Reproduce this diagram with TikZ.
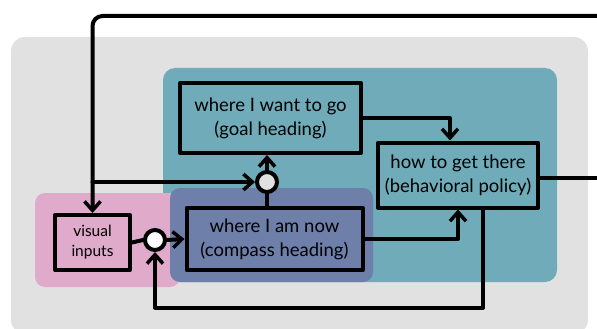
\documentclass[tikz,border=0pt]{standalone}
\usepackage{fontspec}
\setmainfont{Lato}
\usetikzlibrary{arrows.meta}
\definecolor{bggray}{HTML}{E1E1E1}
\definecolor{teal1}{HTML}{6FABB8}
\definecolor{pink1}{HTML}{E0AACB}
\definecolor{purp1}{HTML}{6E80A9}
\begin{document}
\begin{tikzpicture}[x=1pt,y=-1pt,
  blk/.style={draw=black,line width=4pt,minimum width=#1,inner sep=0pt,align=center,font=\fontsize{18.5}{24}\selectfont,line join=round},
  junc/.style={circle,draw=black,line width=4pt,minimum size=20pt,inner sep=0pt},
  ln/.style={draw=black,line width=4pt,line cap=round,line join=round},
  arr/.style={ln,-{Straight Barb[length=9pt,width=16pt,line width=3.5pt]}}]
\useasboundingbox (0,0) rectangle (597,329);
% background regions
\fill[bggray,rounded corners=14pt] (11,37) rectangle (588,334);
\fill[teal1,rounded corners=12pt] (163,68) rectangle (557,282);
\fill[pink1,rounded corners=10pt] (35,193) rectangle (180,287);
\fill[purp1,rounded corners=10pt] (170,188) rectangle (373,282);
% nodes
\node[blk=181pt,minimum height=70pt,fill=teal1] (goal) at (270.5,118) {where I want to go\\(goal heading)};
\node[blk=160pt,minimum height=65pt,fill=teal1] (policy) at (458,175) {how to get there\\(behavioral policy)};
\node[blk=176pt,minimum height=62pt,fill=purp1] (now) at (274.5,239) {where I am now\\(compass heading)};
\node[blk=75pt,minimum height=55pt,fill=pink1,font=\fontsize{15.5}{20}\selectfont] (visual) at (92.5,242.5) {visual\\inputs};
\node[junc,fill=white] (c1) at (155,240) {};
\node[junc,fill=bggray] (c2) at (267,182) {};
% free ends
\coordinate (outR) at (600,178);
\coordinate (topR) at (600,16);
% connectors
\draw[ln] (policy.east |- outR) -- (outR);
\draw[arr,rounded corners=10pt] (topR) -| (visual.north);
\draw[arr] (c2 -| visual.north) -- (c2.west);
\draw[arr] (c2.north) -- (c2.north |- goal.south);
\draw[ln] (now.north -| c2) -- (c2.south);
\draw[ln] (visual.east) -- (c1.west);
\draw[arr] (c1.east) -- (now.west);
\draw[arr] (goal.east) -| ([xshift=-8pt]policy.north);
\draw[arr] (now.east) -| (policy.south);
\draw[arr] ([xshift=25pt]policy.south) -- ++(0,98) -| (c1.south);
\end{tikzpicture}
\end{document}
